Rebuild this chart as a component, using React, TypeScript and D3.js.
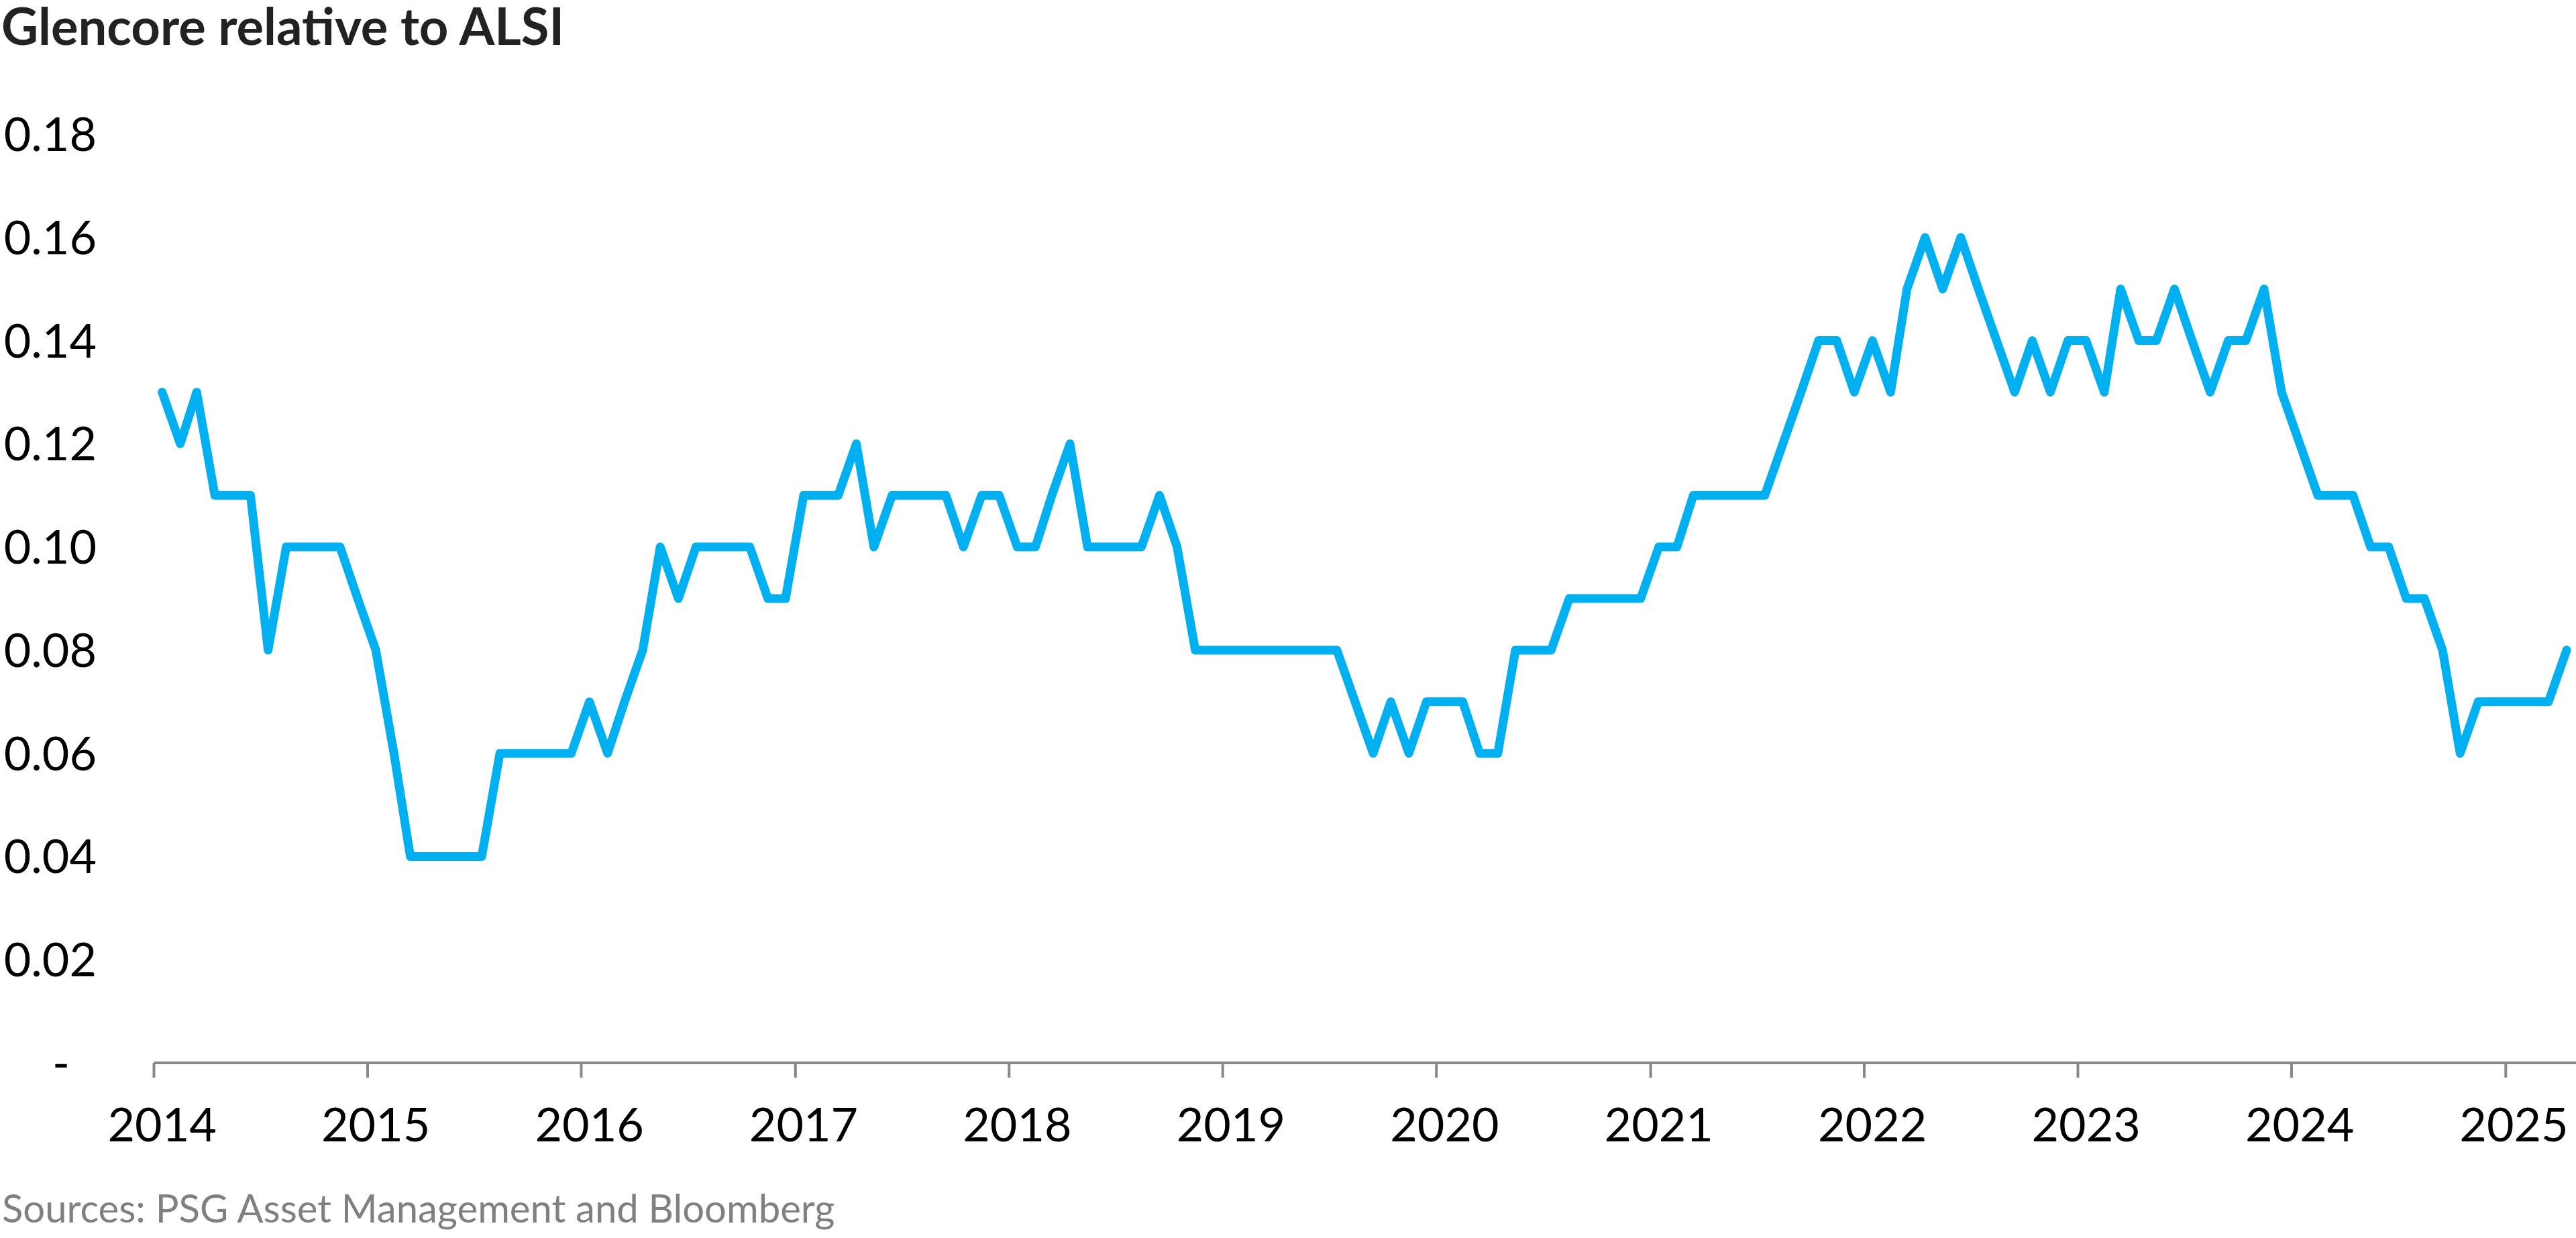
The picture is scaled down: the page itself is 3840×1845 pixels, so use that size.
import * as React from "react";
import * as d3 from "d3";

// monthly readings, Glencore relative to ALSI
const v2014 = [0.13, 0.12, 0.13, 0.11, 0.11, 0.11, 0.08, 0.10, 0.10, 0.10, 0.10, 0.09];
const v2015 = [0.08, 0.06, 0.04, 0.04, 0.04, 0.04, 0.04, 0.06, 0.06, 0.06, 0.06, 0.06];
const v2016 = [0.07, 0.06, 0.07, 0.08, 0.10, 0.09, 0.10, 0.10, 0.10, 0.10, 0.09, 0.09];
const v2017 = [0.11, 0.11, 0.11, 0.12, 0.10, 0.11, 0.11, 0.11, 0.11, 0.10, 0.11, 0.11];
const v2018 = [0.10, 0.10, 0.11, 0.12, 0.10, 0.10, 0.10, 0.10, 0.11, 0.10, 0.08, 0.08];
const v2019 = [0.08, 0.08, 0.08, 0.08, 0.08, 0.08, 0.08, 0.07, 0.06, 0.07, 0.06, 0.07];
const v2020 = [0.07, 0.07, 0.06, 0.06, 0.08, 0.08, 0.08, 0.09, 0.09, 0.09, 0.09, 0.09];
const v2021 = [0.10, 0.10, 0.11, 0.11, 0.11, 0.11, 0.11, 0.12, 0.13, 0.14, 0.14, 0.13];
const v2022 = [0.14, 0.13, 0.15, 0.16, 0.15, 0.16, 0.15, 0.14, 0.13, 0.14, 0.13, 0.14];
const v2023 = [0.14, 0.13, 0.15, 0.14, 0.14, 0.15, 0.14, 0.13, 0.14, 0.14, 0.15, 0.13];
const v2024 = [0.12, 0.11, 0.11, 0.11, 0.10, 0.10, 0.09, 0.09, 0.08, 0.06, 0.07, 0.07];
const v2025 = [0.07, 0.07, 0.07, 0.08];

const years = [2014, 2015, 2016, 2017, 2018, 2019, 2020, 2021, 2022, 2023, 2024, 2025];
const yearValues = [v2014, v2015, v2016, v2017, v2018, v2019, v2020, v2021, v2022, v2023, v2024, v2025];
const yTicks = [0, 0.02, 0.04, 0.06, 0.08, 0.1, 0.12, 0.14, 0.16, 0.18];

const title = "Glencore relative to ALSI";
const source = "Sources: PSG Asset Management and Bloomberg";

interface Point {
  date: Date;
  value: number;
}

const W = 3840;
const H = 1845;
const font = "Lato, 'Open Sans', sans-serif";

const App: React.FC = () => {
  const data: Point[] = [];
  years.forEach((yr, yi) => {
    yearValues[yi].forEach((v, m) => {
      data.push({ date: new Date(yr, m, 15), value: v });
    });
  });

  const x = d3
    .scaleTime()
    .domain([new Date(2014, 0, 1), new Date(2025, 4, 1)])
    .range([229.5, W]);

  const y = d3.scaleLinear().domain([0, 0.18]).range([1584, 200]);

  const line = d3
    .line<Point>()
    .x((d) => x(d.date))
    .y((d) => y(d.value));

  const axisY = y(0);

  return (
    <svg
      width={W}
      height={H}
      style={{ position: "absolute", left: 0, top: 0, background: "#fff" }}
    >
      <text x={2} y={67} fontFamily={font} fontWeight={700} fontSize={76} fill="#222">
        {title}
      </text>

      {yTicks.map((t) => (
        <text
          key={t}
          x={t === 0 ? 104 : 144}
          y={y(t) + 25}
          textAnchor="end"
          fontFamily={font}
          fontSize={70}
          fill="#000"
        >
          {t === 0 ? "-" : t.toFixed(2)}
        </text>
      ))}

      <line x1={x.range()[0]} x2={W} y1={axisY} y2={axisY} stroke="#878787" strokeWidth={4} />
      {years.map((yr) => (
        <g key={yr}>
          <line
            x1={x(new Date(yr, 0, 1))}
            x2={x(new Date(yr, 0, 1))}
            y1={axisY}
            y2={axisY + 22}
            stroke="#878787"
            strokeWidth={4}
          />
          <text
            x={x(new Date(yr, 0, 15))}
            y={1701}
            textAnchor="middle"
            fontFamily={font}
            fontSize={70}
            fill="#000"
          >
            {yr}
          </text>
        </g>
      ))}

      <path
        d={line(data) || ""}
        fill="none"
        stroke="#00B0F0"
        strokeWidth={13}
        strokeLinejoin="round"
        strokeLinecap="round"
      />

      <text x={3} y={1822} fontFamily={font} fontSize={58} fill="#808080">
        {source}
      </text>
    </svg>
  );
};

export default App;
